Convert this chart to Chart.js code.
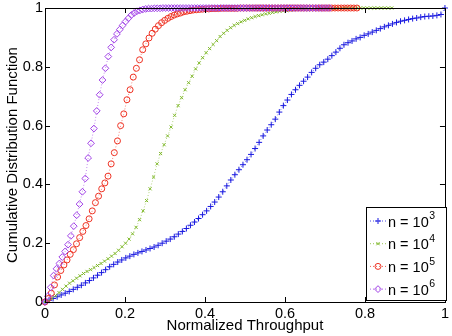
<!DOCTYPE html>
<html><head><meta charset="utf-8">
<script src="https://cdn.jsdelivr.net/npm/chart.js@4/dist/chart.umd.min.js"></script>
<style>html,body{margin:0;padding:0;background:#fff}#wrap{width:452px;height:336px}</style>
</head><body><div id="wrap"><canvas id="c" width="452" height="336"></canvas></div>
<script>
// ---- data ----
const xAxisTitle = 'Normalized Throughput';
const yAxisTitle = 'Cumulative Distribution Function';
const xTickValues = [0, 0.2, 0.4, 0.6, 0.8, 1];
const yTickValues = [0, 0.2, 0.4, 0.6, 0.8, 1];
const legendBase = 'n = 10';
const legendExponents = ['3', '4', '5', '6'];
// each curve is 100 evenly spaced samples from 0 to its last x value
const lastX = [1.0, 0.867, 0.78, 0.712];

const cdfN1e3 = [
0,0.006,0.012,0.018,0.024,0.030,0.036,0.043,0.050,0.057,
0.065,0.073,0.082,0.091,0.100,0.110,0.120,0.128,0.136,0.143,
0.150,0.156,0.162,0.167,0.172,0.177,0.182,0.187,0.193,0.200,
0.207,0.214,0.222,0.231,0.240,0.250,0.261,0.272,0.284,0.297,
0.310,0.325,0.340,0.357,0.375,0.395,0.415,0.433,0.450,0.467,
0.484,0.502,0.522,0.543,0.565,0.585,0.603,0.622,0.646,0.668,
0.687,0.706,0.722,0.737,0.751,0.765,0.781,0.795,0.807,0.816,
0.826,0.838,0.850,0.863,0.875,0.882,0.888,0.895,0.900,0.907,
0.912,0.918,0.924,0.930,0.936,0.941,0.946,0.951,0.955,0.958,
0.961,0.964,0.966,0.969,0.971,0.972,0.973,0.975,0.978,1.000];

const cdfN1e4 = [
0,0.004,0.012,0.022,0.032,0.043,0.054,0.064,0.072,0.081,
0.089,0.097,0.104,0.110,0.117,0.124,0.131,0.139,0.147,0.156,
0.165,0.176,0.188,0.200,0.214,0.232,0.254,0.280,0.310,0.345,
0.385,0.425,0.470,0.505,0.535,0.565,0.595,0.635,0.668,0.695,
0.722,0.746,0.768,0.793,0.813,0.831,0.848,0.862,0.876,0.889,
0.903,0.914,0.924,0.933,0.941,0.947,0.953,0.958,0.963,0.967,
0.971,0.974,0.977,0.980,0.982,0.985,0.987,0.989,0.990,0.991,
0.993,0.994,0.995,0.996,0.997,0.997,0.998,0.998,0.998,0.998,
0.999,0.999,0.999,0.999,0.999,0.999,1,1,1,1,
1,1,1,1,1,1,1,1,1,1];

const cdfN1e5 = [
0,0.012,0.030,0.058,0.085,0.107,0.126,0.143,0.162,0.178,
0.198,0.219,0.240,0.260,0.283,0.310,0.338,0.360,0.385,0.405,
0.428,0.470,0.508,0.548,0.600,0.640,0.688,0.722,0.765,0.795,
0.824,0.858,0.878,0.898,0.914,0.928,0.940,0.950,0.958,0.965,
0.971,0.976,0.980,0.983,0.987,0.989,0.991,0.993,0.994,0.995,
0.996,0.997,0.997,0.998,0.998,0.998,0.999,0.999,0.999,0.999,
0.999,0.999,1,1,1,1,1,1,1,1,
1,1,1,1,1,1,1,1,1,1,
1,1,1,1,1,1,1,1,1,1,
1,1,1,1,1,1,1,1,1,1];

const cdfN1e6 = [
0,0.020,0.050,0.090,0.113,0.131,0.153,0.172,0.195,0.225,
0.258,0.295,0.333,0.375,0.420,0.490,0.540,0.590,0.650,0.705,
0.755,0.795,0.835,0.866,0.892,0.912,0.927,0.941,0.954,0.965,
0.976,0.983,0.989,0.992,0.995,0.997,0.998,0.998,0.999,0.999,
0.999,1,1,1,1,1,1,1,1,1,
1,1,1,1,1,1,1,1,1,1,
1,1,1,1,1,1,1,1,1,1,
1,1,1,1,1,1,1,1,1,1,
1,1,1,1,1,1,1,1,1,1,
1,1,1,1,1,1,1,1,1,1];

// ---- styling ----
const FONT = "'Liberation Sans', Arial, Helvetica, sans-serif";
const seriesY = [cdfN1e3, cdfN1e4, cdfN1e5, cdfN1e6];
const colors = ['#1a1ae0', '#7fb82a', '#ee3324', '#a040e6'];
const styles = ['cross', 'crossRot', 'circle', 'rectRot'];
const radii = [3, 2.2, 3, 3.4];

function toPoints(ys, xEnd) {
  const n = ys.length;
  return ys.map((y, i) => ({ x: xEnd * i / (n - 1), y }));
}

const datasets = seriesY.map((ys, i) => ({
  label: legendBase + '^' + legendExponents[i],
  data: toPoints(ys, lastX[i]),
  showLine: true,
  borderColor: colors[i],
  backgroundColor: 'rgba(0,0,0,0)',
  borderWidth: 0.6,
  borderDash: [1, 2],
  pointStyle: styles[i],
  pointRadius: radii[i],
  pointBorderWidth: 1,
  pointBorderColor: colors[i],
  pointBackgroundColor: 'rgba(0,0,0,0)',
  order: 4 - i,
  clip: false
}));

function drawMarker(ctx, style, r, x, y) {
  ctx.beginPath();
  if (style === 'cross') {
    ctx.moveTo(x - r, y); ctx.lineTo(x + r, y);
    ctx.moveTo(x, y - r); ctx.lineTo(x, y + r);
  } else if (style === 'crossRot') {
    const d = r * Math.SQRT1_2;
    ctx.moveTo(x - d, y - d); ctx.lineTo(x + d, y + d);
    ctx.moveTo(x + d, y - d); ctx.lineTo(x - d, y + d);
  } else if (style === 'circle') {
    ctx.arc(x, y, r, 0, Math.PI * 2);
  } else {
    ctx.moveTo(x, y - r); ctx.lineTo(x + r, y); ctx.lineTo(x, y + r); ctx.lineTo(x - r, y); ctx.closePath();
  }
  ctx.stroke();
}

const framePlugin = {
  id: 'frame',
  afterDatasetsDraw(chart) {
    const { ctx, chartArea: a, scales } = chart;
    ctx.save();
    ctx.strokeStyle = '#000';
    ctx.lineWidth = 1;
    ctx.beginPath();
    xTickValues.forEach(v => {
      const px = Math.round(scales.x.getPixelForValue(v)) + 0.5;
      ctx.moveTo(px, a.bottom); ctx.lineTo(px, a.bottom - 5);
      ctx.moveTo(px, a.top); ctx.lineTo(px, a.top + 5);
    });
    yTickValues.forEach(v => {
      const py = Math.round(scales.y.getPixelForValue(v)) + 0.5;
      ctx.moveTo(a.left, py); ctx.lineTo(a.left + 5, py);
      ctx.moveTo(a.right, py); ctx.lineTo(a.right - 5, py);
    });
    ctx.stroke();
    ctx.strokeRect(Math.round(a.left) + 0.5, Math.round(a.top) + 0.5,
                   Math.round(a.right - a.left), Math.round(a.bottom - a.top));
    // legend box
    const bx = 366, by = 207, bw = 80, bh = 93;
    ctx.fillStyle = '#fff';
    ctx.fillRect(bx, by, bw, bh);
    ctx.strokeRect(bx + 0.5, by + 0.5, bw, bh);
    chart.data.datasets.forEach((ds, i) => {
      const cy = by + 14 + i * 22.7;
      ctx.strokeStyle = ds.borderColor;
      ctx.lineWidth = 0.8;
      ctx.setLineDash([1, 2]);
      ctx.beginPath(); ctx.moveTo(bx + 4, cy); ctx.lineTo(bx + 20, cy); ctx.stroke();
      ctx.setLineDash([]);
      ctx.lineWidth = 1;
      drawMarker(ctx, ds.pointStyle, ds.pointRadius, bx + 12, cy);
      ctx.fillStyle = '#000';
      ctx.textBaseline = 'middle';
      ctx.textAlign = 'left';
      ctx.font = '14.5px ' + FONT;
      ctx.fillText(legendBase, bx + 22, cy + 1.5);
      const w = ctx.measureText(legendBase).width;
      ctx.font = '10.5px ' + FONT;
      ctx.fillText(legendExponents[i], bx + 22 + w + 0.5, cy - 4.5);
    });
    ctx.restore();
  }
};

const fmt = v => (v === 0 ? '0' : v === 1 ? '1' : v.toFixed(1));

new Chart(document.getElementById('c'), {
  type: 'scatter',
  data: { datasets },
  options: {
    responsive: false,
    devicePixelRatio: 1,
    animation: false,
    layout: { padding: { top: 0, right: 4, left: 0, bottom: 0 } },
    plugins: { legend: { display: false }, tooltip: { enabled: false } },
    scales: {
      x: {
        type: 'linear', min: 0, max: 1,
        afterBuildTicks: s => { s.ticks = xTickValues.map(v => ({ value: v })); },
        afterFit: s => { s.height = 34; },
        grid: { display: false, drawTicks: false },
        border: { display: false },
        ticks: { color: '#000', font: { family: FONT, size: 14.5 }, padding: 3, callback: fmt, maxRotation: 0, autoSkip: false },
        title: { display: true, text: xAxisTitle, color: '#000', font: { family: FONT, size: 15 }, padding: { top: 0, bottom: 1 } }
      },
      y: {
        type: 'linear', min: 0, max: 1,
        afterBuildTicks: s => { s.ticks = yTickValues.map(v => ({ value: v })); },
        afterFit: s => { s.width = 45; },
        grid: { display: false, drawTicks: false },
        border: { display: false },
        ticks: { color: '#000', font: { family: FONT, size: 14.5, lineHeight: 0.83 }, padding: 2, callback: fmt, autoSkip: false },
        title: { display: true, text: yAxisTitle, color: '#000', font: { family: FONT, size: 15 }, padding: { top: 3.5, bottom: 0 } }
      }
    }
  },
  plugins: [framePlugin]
});
</script>
</body></html>
